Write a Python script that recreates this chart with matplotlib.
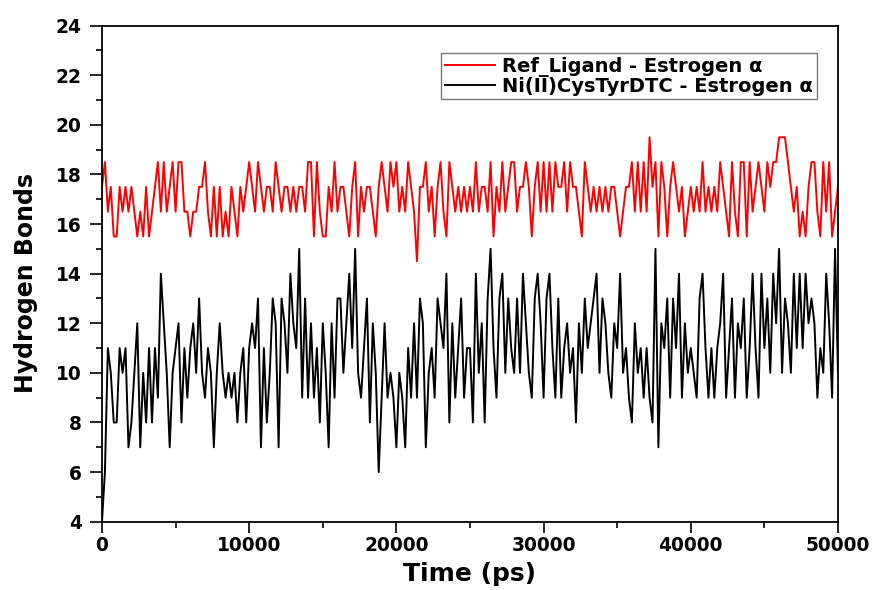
import numpy as np
import matplotlib
matplotlib.use("Agg")
import matplotlib.pyplot as plt
from matplotlib.ticker import MultipleLocator

# Time axis (ps), sampled every 200 ps
time_ps = np.arange(0, 50001, 200)

# Ni(II)CysTyrDTC - Estrogen alpha (hydrogen bonds)
ni_hbonds = [
    4, 6, 11, 10, 8, 8, 11, 10, 11, 7,
    8, 10, 12, 7, 10, 8, 11, 8, 11, 9,
    14, 12, 10, 7, 10, 11, 12, 8, 11, 9,
    11, 12, 10, 13, 10, 9, 11, 10, 7, 10,
    12, 10, 9, 10, 9, 10, 8, 10, 11, 8,
    11, 12, 11, 13, 7, 11, 8, 10, 13, 12,
    7, 13,
    12, 10, 14, 12, 11, 15, 9, 13, 9, 12,
    9, 11, 8, 12, 10, 7, 12, 9, 13, 13,
    10, 12, 14, 11, 15, 10, 9, 11, 13, 8,
    12, 10, 6, 9, 12, 9, 10, 9, 7, 10,
    9, 7, 11, 9, 12, 9, 13, 12, 7, 10,
    11, 9, 13, 12, 11, 14, 8, 12, 9, 11,
    13, 9, 11,
    11, 8, 14, 10, 12, 8, 13, 15, 11, 9,
    13, 14, 10, 13, 11, 10, 13, 10, 14, 12,
    10, 9, 13, 14, 12, 9, 13, 14, 11, 9,
    13, 9, 11, 12, 10, 11, 8, 12, 10, 13,
    11, 12, 13, 14, 10, 13, 12, 10, 9, 12,
    11, 14, 10, 11, 9, 8, 12, 10, 11, 9,
    11, 9, 8,
    15, 7, 12, 11, 13, 9, 13, 11, 14, 9,
    12, 10, 11, 10, 9, 13, 14, 11, 9, 11,
    9, 11, 12, 14, 9, 11, 13, 9, 12, 11,
    13, 9, 11, 14, 11, 9, 14, 11, 13, 10,
    14, 12, 15, 10, 13, 12, 10, 14, 11, 14,
    11, 14, 12, 13, 12, 9, 11, 10, 14, 12,
    9, 15, 10,
]

# Ref_Ligand - Estrogen alpha (hydrogen bonds)
ref_hbonds = [
    17.5, 18.5, 16.5, 17.5, 15.5, 15.5, 17.5, 16.5, 17.5, 16.5,
    17.5, 16.5, 15.5, 16.5, 15.5, 17.5, 15.5, 16.5, 17.5, 18.5,
    16.5, 18.5, 16.5, 17.5, 18.5, 16.5, 18.5, 18.5, 16.5, 16.5,
    15.5, 16.5, 16.5, 17.5, 17.5, 18.5, 16.5, 15.5, 17.5, 15.5,
    17.5, 15.5, 16.5, 15.5, 17.5, 16.5, 15.5, 17.5, 16.5, 17.5,
    18.5, 17.5, 16.5, 18.5, 17.5, 16.5, 17.5, 17.5, 16.5, 18.5,
    17.5, 16.5,
    17.5, 17.5, 16.5, 17.5, 16.5, 17.5, 17.5, 16.5, 18.5, 18.5,
    15.5, 18.5, 16.5, 15.5, 15.5, 17.5, 16.5, 18.5, 16.5, 17.5,
    17.5, 16.5, 15.5, 17.5, 18.5, 15.5, 17.5, 16.5, 17.5, 17.5,
    16.5, 15.5, 17.5, 18.5, 17.5, 16.5, 18.5, 17.5, 18.5, 16.5,
    17.5, 16.5, 18.5, 17.5, 16.5, 14.5, 17.5, 17.5, 18.5, 16.5,
    17.5, 15.5, 17.5, 18.5, 16.5, 15.5, 18.5, 17.5, 16.5, 17.5,
    16.5, 17.5, 16.5,
    17.5, 16.5, 18.5, 16.5, 17.5, 17.5, 16.5, 18.5, 15.5, 17.5,
    16.5, 18.5, 16.5, 17.5, 18.5, 18.5, 16.5, 17.5, 17.5, 18.5,
    17.5, 15.5, 17.5, 18.5, 16.5, 18.5, 16.5, 18.5, 16.5, 18.5,
    17.5, 17.5, 18.5, 16.5, 18.5, 17.5, 17.5, 16.5, 15.5, 18.5,
    17.5, 16.5, 17.5, 16.5, 17.5, 16.5, 17.5, 16.5, 17.5, 17.5,
    16.5, 15.5, 16.5, 17.5, 17.5, 18.5, 16.5, 18.5, 16.5, 18.5,
    16.5, 19.5, 17.5,
    18.5, 15.5, 18.5, 17.5, 15.5, 17.5, 18.5, 17.5, 16.5, 17.5,
    15.5, 16.5, 17.5, 16.5, 17.5, 16.5, 18.5, 16.5, 17.5, 16.5,
    17.5, 16.5, 18.5, 17.5, 16.5, 15.5, 18.5, 16.5, 15.5, 18.5,
    18.5, 15.5, 18.5, 16.5, 17.5, 18.5, 17.5, 16.5, 18.5, 17.5,
    18.5, 18.5, 19.5, 19.5, 19.5, 18.5, 17.5, 16.5, 17.5, 15.5,
    16.5, 15.5, 17.5, 18.5, 18.5, 16.5, 15.5, 18.5, 16.5, 18.5,
    15.5, 16.5, 17.5,
]

ref_label = "Ref_Ligand - Estrogen \u03b1"
ni_label = "Ni(II)CysTyrDTC - Estrogen \u03b1"
x_label = "Time (ps)"
y_label = "Hydrogen Bonds"

plt.rcParams['font.family'] = ['DejaVu Sans']

fig = plt.figure(figsize=(8.76, 5.90), dpi=100)
ax = fig.add_axes([0.1164, 0.1158, 0.8402, 0.8407])

ax.plot(time_ps, ref_hbonds, color='#ff0000', lw=1.4, label=ref_label)
ax.plot(time_ps, ni_hbonds, color='black', lw=1.4, label=ni_label)

ax.set_xlim(0, 50000)
ax.set_ylim(4, 24)
ax.xaxis.set_major_locator(MultipleLocator(10000))
ax.xaxis.set_minor_locator(MultipleLocator(5000))
ax.yaxis.set_major_locator(MultipleLocator(2))
ax.yaxis.set_minor_locator(MultipleLocator(1))
ax.tick_params(which='both', direction='out', top=False, right=False, width=1.2)
ax.tick_params(which='major', length=8, labelsize=13.4)
ax.tick_params(which='minor', length=4.5)
ax.tick_params(axis='x', which='major', pad=2.6)
ax.tick_params(axis='y', which='major', length=9, pad=5.5)
for lab in ax.get_xticklabels() + ax.get_yticklabels():
    lab.set_fontweight('bold')
for s in ax.spines.values():
    s.set_linewidth(1.3)

ax.set_xlabel(x_label, fontsize=18, fontweight='bold', labelpad=5)
ax.set_ylabel(y_label, fontsize=17, fontweight='bold')
ax.yaxis.set_label_coords(-0.087, 0.481)

leg = ax.legend(loc='upper right', bbox_to_anchor=(0.9715, 0.9456), frameon=True,
                fancybox=False, edgecolor='#555555',
                prop={'weight': 'bold', 'size': 14}, handlelength=2.6,
                borderpad=0.2, labelspacing=0.0, handletextpad=0.35,
                borderaxespad=0.0)
leg.get_frame().set_linewidth(1.0)
for line in leg.get_lines():
    line.set_linewidth(1.4)

fig.savefig('out.png', dpi=100)
